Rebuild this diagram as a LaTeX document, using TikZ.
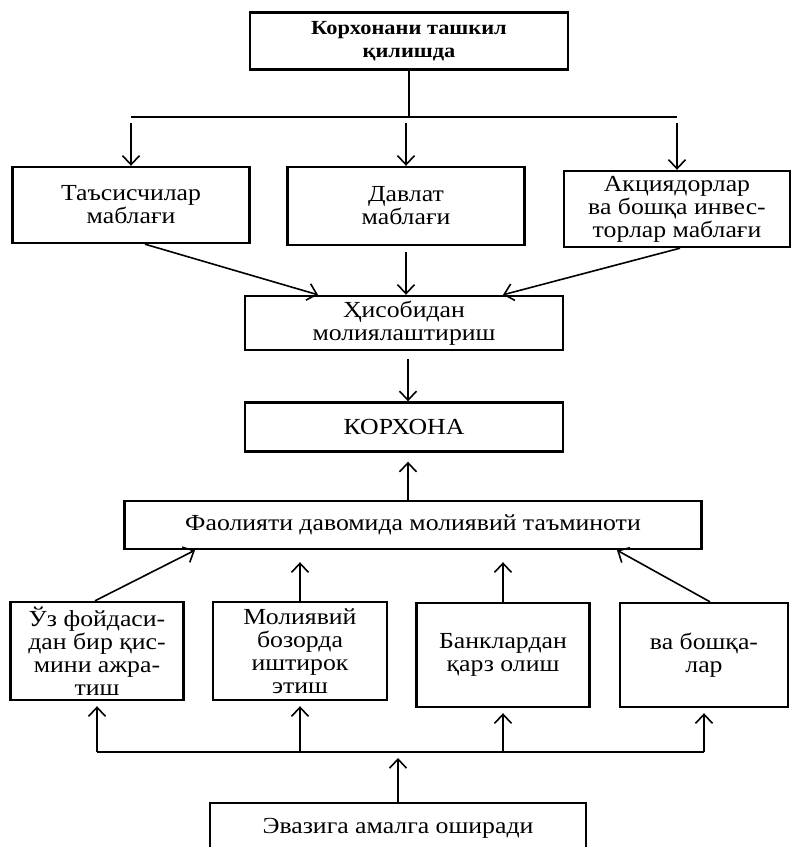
\documentclass[tikz,border=0pt]{standalone}
\usepackage{fontspec}
\setmainfont[FakeStretch=1.12]{Liberation Serif}
\usetikzlibrary{arrows.meta, positioning}

\tikzset{
  box/.style={draw, line width=2.4pt, inner sep=0pt, align=center, font=\fontsize{23}{23}\selectfont},
  arr/.style={line width=1.6pt, -{Straight Barb[length=9pt, width=17pt, line width=1.6pt]}},
  link/.style={line width=2pt},
}

\begin{document}
\begin{tikzpicture}[x=1pt, y=-1pt]
		\useasboundingbox (0,0) rectangle (792,847);
		
		\node (orgbox) [box, minimum width=318pt, minimum height=57pt, font=\fontsize{20}{23}\selectfont\bfseries] at (409,41) {Корхонани ташкил\\қилишда};
		
		\node (src1) [box, minimum width=237pt, minimum height=76pt] at (131,205) {Таъсисчилар\\маблағи};
		\node (src2) [box, minimum width=237pt, minimum height=78pt] at (406,206) {Давлат\\маблағи};
		\node (src3) [box, minimum width=226pt, minimum height=76pt] at (677,209) {Акциядорлар\\ва бошқа инвес-\\торлар маблағи};
		
		\coordinate (topjoin) at (409,117);
		\coordinate (topL) at (src1.north |- topjoin);
		\coordinate (topM) at (src2.north |- topjoin);
		\coordinate (topR) at (src3.north |- topjoin);
		
		\draw [link] (orgbox.south) -- (topjoin);
		\draw [link] (topL) -- (topR);
		\draw [arr] ([yshift=-6pt]topL) -- (src1.north);
		\draw [arr] ([yshift=-6pt]topM) -- (src2.north);
		\draw [arr] ([yshift=-6pt]topR) -- (src3.north);
		
		\node (finbox) [box, minimum width=318pt, minimum height=54pt] at (404,323) {Ҳисобидан\\молиялаштириш};
		
		\draw [arr] ([xshift=14pt]src1.south) -- ([xshift=-86pt]finbox.north);
		\draw [arr] ([yshift=-6pt]src2.south) -- (src2.south |- finbox.north);
		\draw [arr] ([xshift=3pt]src3.south) -- ([xshift=99pt]finbox.north);
		
		\node (firmbox) [box, minimum width=318pt, minimum height=49pt] at (404,427) {КОРХОНА};
		\draw [arr] ([xshift=4pt, yshift=-8pt]finbox.south) -- ([xshift=4pt]firmbox.north);
		
		\node (opbox) [box, minimum width=577pt, minimum height=48pt] at (413,525) {Фаолияти давомида молиявий таъминоти};
		\draw [arr] (opbox.north -| 408,0) -- ([xshift=4pt, yshift=-9pt]firmbox.south);
		
		\node (way1) [box, minimum width=173pt, minimum height=98pt] at (97,651) {Ўз фойдаси-\\дан бир қис-\\мини ажра-\\тиш};
		\node (way2) [box, minimum width=174pt, minimum height=98pt] at (300,651) {Молиявий\\бозорда\\иштирок\\этиш};
		\node (way3) [box, minimum width=173pt, minimum height=104pt] at (503,655) {Банклардан\\қарз олиш};
		\node (way4) [box, minimum width=168pt, minimum height=104pt] at (704,655) {ва бошқа-\\лар};
		
		\draw [arr] ([xshift=-2pt]way1.north) -- ([xshift=-218pt]opbox.south);
		\draw [arr] (way2.north) -- ([yshift=-12pt]way2.north |- opbox.south);
		\draw [arr] (way3.north) -- ([yshift=-12pt]way3.north |- opbox.south);
		\draw [arr] ([xshift=6pt]way4.north) -- ([xshift=204pt]opbox.south);
		
		\node (payoff) [box, minimum width=376pt, minimum height=70pt] at (398,838) {\raisebox{1.05em}{Эвазига амалга оширади}};
		
		\coordinate (busL) at (way1.south |- 0,752);
		\coordinate (busR) at (way4.south |- 0,752);
		\draw [link] (busL) -- (busR);
		\draw [arr] (busL) -- ([yshift=-5pt]way1.south);
		\draw [arr] (way2.south |- busL) -- ([yshift=-5pt]way2.south);
		\draw [arr] (way3.south |- busL) -- ([yshift=-5pt]way3.south);
		\draw [arr] (busR) -- ([yshift=-5pt]way4.south);
		\draw [arr] (payoff.north) -- ([yshift=-6pt]payoff.north |- busL);
		
	\end{tikzpicture}
\end{document}
